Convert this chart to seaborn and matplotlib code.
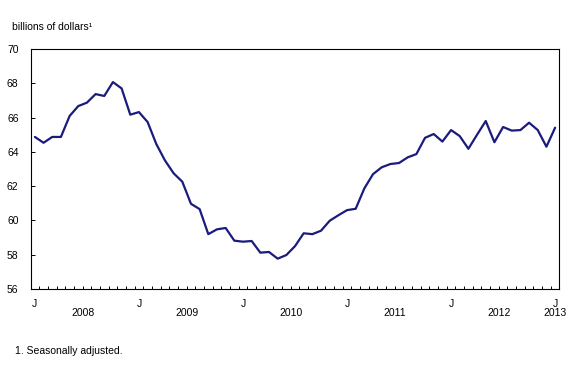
import numpy as np
import pandas as pd
import seaborn as sns
import matplotlib.pyplot as plt

# monthly values, Jan 2008 .. Jan 2013 (billions of dollars, seasonally adjusted)
v2008 = [64.87, 64.53, 64.87, 64.87, 66.09, 66.67, 66.87, 67.37, 67.26, 68.07, 67.7, 66.17]
v2009 = [66.32, 65.74, 64.46, 63.5, 62.75, 62.26, 60.97, 60.66, 59.2, 59.48, 59.56, 58.82]
v2010 = [58.76, 58.8, 58.12, 58.16, 57.77, 57.98, 58.5, 59.25, 59.2, 59.4, 59.98, 60.3]
v2011 = [60.6, 60.68, 61.87, 62.7, 63.1, 63.29, 63.35, 63.68, 63.87, 64.82, 65.04, 64.6]
v2012 = [65.27, 64.92, 64.18, 65.0, 65.8, 64.56, 65.45, 65.24, 65.27, 65.7, 65.27, 64.3]
v2013 = [65.41]

years = ["2008", "2009", "2010", "2011", "2012", "2013"]
ytick_vals = [56, 58, 60, 62, 64, 66, 68, 70]

values = v2008 + v2009 + v2010 + v2011 + v2012 + v2013
df = pd.DataFrame({"month": np.arange(len(values)), "value": values})

sns.set_style("white")
plt.rcParams['font.family'] = ['Liberation Sans', 'DejaVu Sans']
plt.rcParams['text.color'] = 'black'
plt.rcParams['xtick.color'] = 'black'
plt.rcParams['ytick.color'] = 'black'

fig = plt.figure(figsize=(5.88, 3.80), dpi=100)
ax = fig.add_axes([31 / 588, 1 - 289 / 380, 528 / 588, 240 / 380])

sns.lineplot(data=df, x="month", y="value", ax=ax, color="#1b1b7d", linewidth=1.6)

ax.set_xlim(-0.45, 60.45)
ax.set_ylim(56, 70)
ax.set_xlabel("")
ax.set_ylabel("")

for s in ax.spines.values():
    s.set_color("black")
    s.set_linewidth(0.8)

# y axis
ax.set_yticks(ytick_vals)
ax.set_yticklabels([str(v) for v in ytick_vals], fontsize=7.5)
ax.tick_params(axis="y", left=True, direction="in", length=3, width=0.7, color="black", pad=9)

# x axis: month ticks between months, "J" labels on January
ax.set_xticks(np.arange(len(values) - 1) + 0.5, minor=True)
ax.set_xticks(np.arange(0, len(values), 12))
ax.set_xticklabels(["J"] * len(years), fontsize=7.5)
ax.tick_params(axis="x", which="major", bottom=True, length=0, pad=7)
ax.tick_params(axis="x", which="minor", bottom=True, direction="in", length=2.2, width=0.7, color="black")

for i, yr in enumerate(years):
    xpos = i * 12 + 5.5 if i < len(years) - 1 else 60
    ax.text(xpos, -0.1, yr, transform=ax.get_xaxis_transform(), ha="center", va="center", fontsize=7.5)

fig.text(12 / 588, 1 - 27 / 380, "billions of dollars¹", fontsize=7.5, va="center", ha="left")
fig.text(15 / 588, 1 - 351 / 380, "1. Seasonally adjusted.", fontsize=7.5, va="center", ha="left")

fig.savefig("out.png", dpi=100)
